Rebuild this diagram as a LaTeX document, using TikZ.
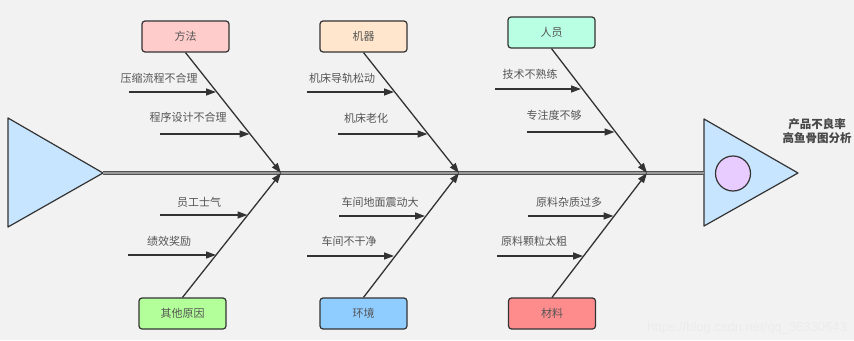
\documentclass[tikz,border=0pt]{standalone}
\usepackage{fontspec}
\newfontfamily\cjk{Noto Sans CJK SC}
\newfontfamily\wmfont{Liberation Sans}
\usetikzlibrary{arrows.meta}
\definecolor{bg}{HTML}{F2F2F2}
\definecolor{ln}{HTML}{333333}
\definecolor{txt}{HTML}{555555}
\definecolor{fishblue}{HTML}{C7E5FF}
\definecolor{eye}{HTML}{E8CCFF}
\definecolor{cA}{HTML}{FFCCCC}
\definecolor{cB}{HTML}{FFE6CC}
\definecolor{cC}{HTML}{B8FFE4}
\definecolor{cD}{HTML}{B3FF99}
\definecolor{cE}{HTML}{8FCCFF}
\definecolor{cF}{HTML}{FF8C8C}
\tikzset{
  catbox/.style={draw=ln, line width=1.2pt, rounded corners=3pt, minimum width=87pt, minimum height=31pt, inner sep=0pt, font=\cjk\fontsize{11}{13}\selectfont, text=txt},
  lbl/.style={font=\cjk\fontsize{11}{13}\selectfont, text=txt, inner sep=0pt},
  bone/.style={draw=ln, line width=1.3pt, -{Triangle[length=10pt,width=7pt]}},
  sub/.style={draw=ln, line width=1.3pt, -{Triangle[length=10pt,width=7pt]}},
}
\begin{document}
\begin{tikzpicture}[x=1pt,y=-1pt]
\fill[bg] (0,0) rectangle (854,340);
\useasboundingbox (0,0) rectangle (854,340);
% heads
\coordinate (tailtip) at (103,173);
\coordinate (headback) at (704,173);
\draw[ln, line width=1.2pt, fill=fishblue, line join=round] (8,118) -- (8,227) -- (tailtip) -- cycle;
\draw[ln, line width=1.2pt, fill=fishblue, line join=round] (704,119) -- (704,226) -- (798,173) -- cycle;
\node[circle, draw=ln, line width=1.2pt, fill=eye, minimum size=35pt, inner sep=0pt] (eyec) at (733,173.5) {};
% spine
\draw[draw=ln!85, line width=1pt, double=ln!50, double distance=1.3pt] (tailtip) -- (headback);
% junctions
\coordinate (j1) at (281,173);
\coordinate (j2) at (459,173);
\coordinate (j3) at (647,173);
% category boxes
\node[catbox, fill=cA] (fangfa) at (185.5,36.5) {方法};
\node[catbox, fill=cB] (jiqi) at (363.5,36.5) {机器};
\node[catbox, fill=cC] (renyuan) at (551.5,32.5) {人员};
\node[catbox, fill=cD] (qita) at (182.5,313.5) {其他原因};
\node[catbox, fill=cE] (huanjing) at (363.5,313.5) {环境};
\node[catbox, fill=cF] (cailiao) at (552,313.5) {材料};
% main bones
\draw[bone] (fangfa.south) -- (j1);
\draw[bone] (jiqi.south) -- (j2);
\draw[bone] (renyuan.south) -- (j3);
\draw[bone] (qita.north) -- (j1);
\draw[bone] (huanjing.north) -- (j2);
\draw[bone] (cailiao.north) -- (j3);
% sub-cause arrow endpoints
\coordinate (s1a) at (129,92);  \coordinate (e1a) at (216,92);
\coordinate (s1b) at (160,134); \coordinate (e1b) at (249.5,134);
\coordinate (s2a) at (307,92);  \coordinate (e2a) at (394,92);
\coordinate (s2b) at (338,134); \coordinate (e2b) at (427.5,134);
\coordinate (s3a) at (495,89);  \coordinate (e3a) at (581,89);
\coordinate (s3b) at (527,132); \coordinate (e3b) at (614.5,132);
\coordinate (s4a) at (160,215); \coordinate (e4a) at (247.5,215);
\coordinate (s4b) at (128,255); \coordinate (e4b) at (216,255);
\coordinate (s5a) at (339,216); \coordinate (e5a) at (425,216);
\coordinate (s5b) at (307,256); \coordinate (e5b) at (394,256);
\coordinate (s6a) at (528,216); \coordinate (e6a) at (613.5,216);
\coordinate (s6b) at (497,256); \coordinate (e6b) at (583,256);
\foreach \k in {1a,1b,2a,2b,3a,3b,4a,4b,5a,5b,6a,6b}{\draw[sub] (s\k) -- (e\k);}
% labels
\node[lbl] (l1a) at (159,78) {压缩流程不合理};
\node[lbl] (l1b) at (188,117) {程序设计不合理};
\node[lbl] (l2a) at (342,78) {机床导轨松动};
\node[lbl] (l2b) at (366,118) {机床老化};
\node[lbl] (l3a) at (530,74) {技术不熟练};
\node[lbl] (l3b) at (554,115) {专注度不够};
\node[lbl] (l4a) at (199,202) {员工士气};
\node[lbl] (l4b) at (169,241) {绩效奖励};
\node[lbl] (l5a) at (380,202) {车间地面震动大};
\node[lbl] (l5b) at (349,241) {车间不干净};
\node[lbl] (l6a) at (569,202) {原料杂质过多};
\node[lbl] (l6b) at (534,241) {原料颗粒太粗};
% title
\node[font=\cjk\bfseries\fontsize{11.5}{14}\selectfont, text=ln!90, align=center, inner sep=0pt] (title) at (817,131) {产品不良率\\高鱼骨图分析};
% watermark
\node[font=\wmfont\fontsize{13}{15}\selectfont, text=white!85!gray, anchor=east, inner sep=0pt] (wm) at (847,328) {https://blog.csdn.net/qq\_36330643};
\end{tikzpicture}
\end{document}
